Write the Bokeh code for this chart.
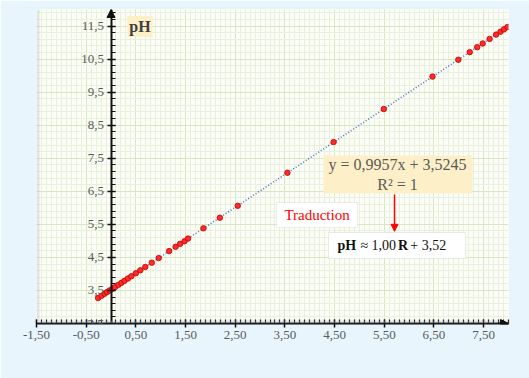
import numpy as np
from bokeh.plotting import figure
from bokeh.models import FixedTicker, Label, Arrow, NormalHead, BoxAnnotation, Range1d
from bokeh.embed import file_html
from bokeh.resources import INLINE

# ---- data ----
R = [-0.26, -0.19, -0.13, -0.08, -0.03, 0.03, 0.08, 0.15, 0.21, 0.27, 0.34, 0.41,
     0.50, 0.59, 0.69, 0.82, 0.96, 1.17, 1.30, 1.39, 1.48, 1.55, 1.86, 2.19, 2.55,
     3.55, 4.48, 5.49, 6.47, 6.99, 7.22, 7.37, 7.48, 7.62, 7.75, 7.84, 7.91, 7.98]
pH = [3.27, 3.34, 3.40, 3.45, 3.50, 3.55, 3.60, 3.67, 3.73, 3.79, 3.86, 3.93,
      4.02, 4.11, 4.21, 4.34, 4.48, 4.69, 4.82, 4.91, 4.99, 5.07, 5.38, 5.70, 6.06,
      7.06, 7.99, 8.99, 9.97, 10.48, 10.71, 10.86, 10.97, 11.11, 11.24, 11.33, 11.40, 11.47]
slope = 0.9957
intercept = 3.5245

x_ticks = [-1.5, -0.5, 0.5, 1.5, 2.5, 3.5, 4.5, 5.5, 6.5, 7.5]
x_tick_labels = ["-1,50", "-0,50", "0,50", "1,50", "2,50", "3,50", "4,50", "5,50", "6,50", "7,50"]
y_ticks = [2.5, 3.5, 4.5, 5.5, 6.5, 7.5, 8.5, 9.5, 10.5, 11.5]
y_tick_labels = ["2,5", "3,5", "4,5", "5,5", "6,5", "7,5", "8,5", "9,5", "10,5", "11,5"]
x_minor = [round(-1.5 + 0.1 * i, 2) for i in range(96)]
y_minor = [round(2.5 + 0.2 * i, 2) for i in range(48)]

eq_text = "y = 0,9957x + 3,5245\nR² = 1"
trad_text = "Traduction"

SERIF = "Liberation Serif"

p = figure(width=529, height=378, x_range=Range1d(-1.5, 8.0), y_range=Range1d(2.5, 12.0),
           output_backend="svg", toolbar_location=None,
           min_border_left=36, min_border_right=21, min_border_top=9, min_border_bottom=55,
           background_fill_color="#fcfdf7", border_fill_color="#e8f5fc")
p.outline_line_color = None

xt = FixedTicker(ticks=x_ticks, minor_ticks=x_minor)
yt = FixedTicker(ticks=y_ticks, minor_ticks=y_minor)
p.xaxis.ticker = xt
p.yaxis.ticker = yt
p.xgrid.ticker = xt
p.ygrid.ticker = yt
p.xaxis.major_label_overrides = dict(zip(x_ticks, x_tick_labels))
p.yaxis.major_label_overrides = dict(zip(y_ticks, y_tick_labels))
p.yaxis.fixed_location = 0

for g in (p.xgrid, p.ygrid):
    g.grid_line_color = "#d6e7c3"
    g.grid_line_width = 1
    g.minor_grid_line_color = "#e9f1de"
    g.minor_grid_line_width = 1

for ax in (p.xaxis, p.yaxis):
    ax.axis_line_color = "#111111"
    ax.axis_line_width = 2
    ax.major_tick_line_color = "#111111"
    ax.minor_tick_line_color = "#111111"
    ax.major_tick_line_width = 1.5
    ax.minor_tick_line_width = 1.2
    ax.major_tick_in = 4
    ax.major_tick_out = 4
    ax.minor_tick_in = 4
    ax.minor_tick_out = 0
    ax.major_label_text_font = SERIF
    ax.major_label_text_font_size = "13px"
    ax.major_label_text_color = "#5a5a5a"
    ax.major_label_standoff = 3

# outer frame border (screen units, symmetric so the y direction does not matter)
p.add_layout(BoxAnnotation(left=1.5, right=524, top=1.5, bottom=375,
                           left_units="screen", right_units="screen",
                           top_units="screen", bottom_units="screen",
                           fill_alpha=0, line_color="#a9b1b8", line_width=3))

# bottom y label partly hidden under the x axis
p.add_layout(Label(x=0, y=2.5, x_offset=-7, text=y_tick_labels[0], text_align="right",
                   text_baseline="middle", text_font=SERIF, text_font_size="13px",
                   text_color="#5a5a5a"))

# axis arrow heads
p.add_layout(Arrow(end=NormalHead(size=8, fill_color="#111111", line_color="#111111"),
                   x_start=0, y_start=11.8, x_end=0, y_end=12.0, line_width=2, line_color="#111111"))
p.add_layout(Arrow(end=NormalHead(size=8, fill_color="#111111", line_color="#111111"),
                   x_start=7.8, y_start=2.5, x_end=8.0, y_end=2.5, line_width=2, line_color="#111111"))

# trend line
xl = [min(R), max(R)]
yl = [slope * v + intercept for v in xl]
p.line(xl, yl, line_color="#4472c4", line_width=1.5, line_dash="1 2")

# points
p.scatter(R, pH, size=5.5, fill_color="#ff2a2a", line_color="#c00000", line_width=0.8)

# equation box
p.add_layout(BoxAnnotation(left=4.277, right=7.276, top=7.583, bottom=6.433,
                           fill_color="#fdf0c9", fill_alpha=1, line_color=None))
p.add_layout(Label(x=5.767, y=7.01, text=eq_text, text_align="center", text_baseline="middle",
                   text_font=SERIF, text_font_size="16px", text_color="#595959"))

# red arrow
p.add_layout(Arrow(end=NormalHead(size=7, fill_color="#ff0000", line_color="#ff0000"),
                   x_start=5.706, y_start=6.40, x_end=5.706, y_end=5.29,
                   line_color="#ff0000", line_width=1.5))

# Traduction box
p.add_layout(BoxAnnotation(left=3.331, right=4.961, top=6.161, bottom=5.405,
                           fill_color="white", fill_alpha=1, line_color="#c8c8c8", line_width=1))
p.add_layout(Label(x=4.146, y=5.79, text=trad_text, text_align="center", text_baseline="middle",
                   text_font=SERIF, text_font_size="15px", text_color="#ff0000"))

# pH formula box
p.add_layout(BoxAnnotation(left=4.378, right=7.135, top=5.253, bottom=4.467,
                           fill_color="white", fill_alpha=1, line_color="#bdbdbd", line_width=1))
parts = [("pH", 4.56, "bold"), ("≈ 1,00", 5.02, "normal"), ("R", 5.776, "bold"), ("+ 3,52", 6.025, "normal")]
for t, xx, st in parts:
    p.add_layout(Label(x=xx, y=4.86, text=t, text_align="left", text_baseline="middle",
                       text_font=SERIF, text_font_size="14px", text_font_style=st, text_color="#111111"))

# axis name labels
p.add_layout(Label(x=0.583, y=11.486, text="pH", text_align="center", text_baseline="middle",
                   text_font=SERIF, text_font_size="16px", text_font_style="bold", text_color="#404040",
                   background_fill_color="#fdf0c9", padding=2))
p.add_layout(Label(x=7.749, y=1.592, text="R", text_align="center", text_baseline="middle",
                   text_font=SERIF, text_font_size="16px", text_font_style="bold", text_color="#404040",
                   background_fill_color="#fdf0c9", padding=3))

open("out.html", "w").write(file_html(p, INLINE))
